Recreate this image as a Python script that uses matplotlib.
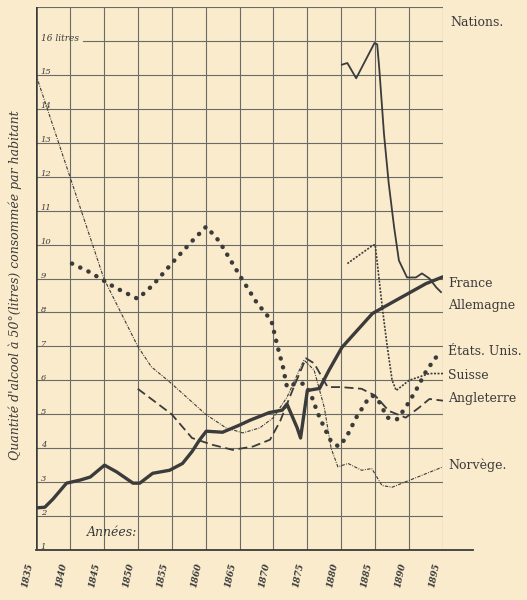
import matplotlib
matplotlib.use("Agg")
import matplotlib.pyplot as plt

BG = "#f9ebcc"
INK = "#3b3b3b"
GRID = "#6a6a66"

YEARS_TICKS = list(range(1835, 1900, 5))
VALUES_TICKS = list(range(1, 17))

# France (thick solid)
france_x = [1835, 1836.3, 1837.5, 1839.5, 1841.5, 1843, 1845.1, 1846.9, 1849.3, 1850.3,
            1852.2, 1854.7, 1856.6, 1858, 1859.1, 1860.1, 1862.5, 1865, 1866.5, 1869.4,
            1871.3, 1872, 1873.5, 1874, 1875, 1876.8, 1878.2, 1880.1, 1884.6, 1888,
            1892.5, 1895]
france_y = [2.24, 2.26, 2.5, 2.97, 3.06, 3.15, 3.5, 3.3, 2.97, 2.97,
            3.26, 3.35, 3.55, 3.9, 4.24, 4.5, 4.47, 4.68, 4.82, 5.05,
            5.12, 5.3, 4.6, 4.3, 5.7, 5.76, 6.3, 6.97, 7.97, 8.35,
            8.85, 9.05]

# Allemagne (thin solid)
allemagne_x = [1880.1, 1880.9, 1882.2, 1884.9, 1885.3, 1885.6, 1886.3, 1887, 1887.8, 1888.5,
               1889.7, 1891, 1891.9, 1893, 1894, 1894.7]
allemagne_y = [15.3, 15.35, 14.9, 15.94, 15.9, 15.2, 13.26, 11.8, 10.5, 9.53,
               9.03, 9.03, 9.15, 9.0, 8.74, 8.6]

# Etats-Unis (large dots)
etats_x = [1840.3, 1843, 1846.6, 1850, 1852.2, 1855.7, 1858, 1860.1, 1862, 1865,
           1867.5, 1869.7, 1870.6, 1871.4, 1872, 1873.2, 1874.5, 1875.5, 1876.5, 1877.5,
           1878.5, 1879.6, 1880.7, 1882.2, 1883.8, 1884.6, 1885.5, 1886.8, 1888.2, 1889.5,
           1891, 1892.6, 1894.6]
etats_y = [9.44, 9.18, 8.74, 8.4, 8.8, 9.6, 10.1, 10.53, 10.1, 9.1,
           8.3, 7.76, 7.0, 6.4, 5.8, 5.9, 5.9, 5.6, 5.05, 4.6,
           4.2, 4.05, 4.3, 4.9, 5.4, 5.55, 5.4, 4.9, 4.85, 5.2,
           5.7, 6.3, 6.85]

# Suisse (fine dotted)
suisse_x = [1880.9, 1884.6, 1885, 1885.6, 1886.1, 1886.8, 1887.5, 1888.1, 1890, 1891.5,
            1893, 1895]
suisse_y = [9.44, 9.97, 10.0, 8.94, 8.06, 6.97, 6.0, 5.7, 6.0, 6.1,
            6.2, 6.2]

# Angleterre (dashed)
angleterre_x = [1850, 1855, 1858, 1861, 1864, 1867, 1869.5, 1871, 1873, 1874.8,
                1876, 1878, 1880, 1883, 1885, 1887, 1889.5, 1891.5, 1893, 1895]
angleterre_y = [5.75, 5.0, 4.3, 4.1, 3.95, 4.05, 4.25, 4.8, 5.8, 6.65,
                6.5, 5.8, 5.8, 5.75, 5.55, 5.1, 4.9, 5.2, 5.45, 5.4]

# Norvege (thin dash-dot)
norvege_x = [1835, 1840, 1845, 1850, 1852, 1855, 1860, 1863, 1865.5, 1868,
             1870, 1872, 1874.5, 1876, 1877.5, 1878.5, 1879.5, 1881, 1883, 1884.5,
             1886, 1887.5, 1890, 1892.5, 1895]
norvege_y = [15.0, 12.0, 9.0, 7.0, 6.4, 5.9, 5.0, 4.6, 4.45, 4.6,
             4.9, 5.5, 6.6, 6.3, 5.2, 4.0, 3.45, 3.55, 3.35, 3.4,
             2.9, 2.85, 3.05, 3.25, 3.45]

LABELS = ["France", "Allemagne", "États. Unis.", "Suisse", "Angleterre", "Norvège."]
LABEL_Y = [8.85, 8.2, 6.85, 6.15, 5.45, 3.5]

plt.rcParams["font.family"] = ["DejaVu Serif"]

fig = plt.figure(figsize=(5.27, 6.0), dpi=100, facecolor=BG)
ax = fig.add_axes([36 / 527, 1 - 550 / 600, 407 / 527, 543 / 600])
ax.set_facecolor(BG)
ax.set_xlim(1835, 1895)
ax.set_ylim(1, 17)

# grid
for yr in YEARS_TICKS:
    ax.axvline(yr, color=GRID, lw=0.8, zorder=1)
for v in range(1, 18):
    if v == 16:
        ax.plot([1842, 1895], [v, v], color=GRID, lw=0.8, zorder=1)
    else:
        ax.axhline(v, color=GRID, lw=0.8, zorder=1)
for s in ax.spines.values():
    s.set_visible(False)
ax.axvline(1835, color=INK, lw=1.8, zorder=2)
ax.plot([0, (473 - 36) / 407], [0, 0], transform=ax.transAxes,
        color=INK, lw=1.3, clip_on=False, zorder=2)
ax.set_xticks([])
ax.set_yticks([])

# series
ax.plot(norvege_x, norvege_y, color=INK, lw=0.8, ls=(0, (3, 1.2, 0.8, 1.2)), zorder=3)
ax.plot(angleterre_x, angleterre_y, color=INK, lw=1.3, ls=(0, (5, 2.5)), zorder=3)
ax.plot(suisse_x, suisse_y, color=INK, lw=1.2, ls=(0, (1.2, 0.9)), zorder=3)
ax.plot(etats_x, etats_y, color=INK, lw=3.2, ls=(0, (0.05, 2.0)),
        dash_capstyle="round", zorder=3)
ax.plot(allemagne_x, allemagne_y, color=INK, lw=1.3, zorder=4)
ax.plot(france_x, france_y, color=INK, lw=2.4, solid_capstyle="round",
        solid_joinstyle="round", zorder=4)

# y tick numbers inside the frame
for v in VALUES_TICKS:
    txt = "16 litres" if v == 16 else str(v)
    ax.text(1835.7, v + 0.08, txt, fontsize=6.5 if v == 16 else 6, color=INK,
            ha="left", va="center", style="italic", zorder=5)

# year labels
for yr in YEARS_TICKS:
    ax.text(yr - 1.3, -0.047, str(yr), transform=ax.get_xaxis_transform(),
            fontsize=6.5, color=INK, rotation=78, ha="center", va="center",
            style="italic", fontweight="bold")

ax.text(1842.5, 1.4, "Années:", fontsize=9, color=INK, style="italic")

fig.text(15 / 527, 1 - 285 / 600,
         "Quantité d'alcool à 50°(litres) consommée par habitant",
         rotation=90, ha="center", va="center", fontsize=9, color=INK, style="italic")

fig.text(450 / 527, 1 - 22 / 600, "Nations.", fontsize=9, color=INK,
         ha="left", va="center")
for lab, ly in zip(LABELS, LABEL_Y):
    ax.text(1895.8, ly, lab, fontsize=9, color=INK, ha="left", va="center",
            clip_on=False)

fig.savefig("out.png", dpi=100, facecolor=BG)
